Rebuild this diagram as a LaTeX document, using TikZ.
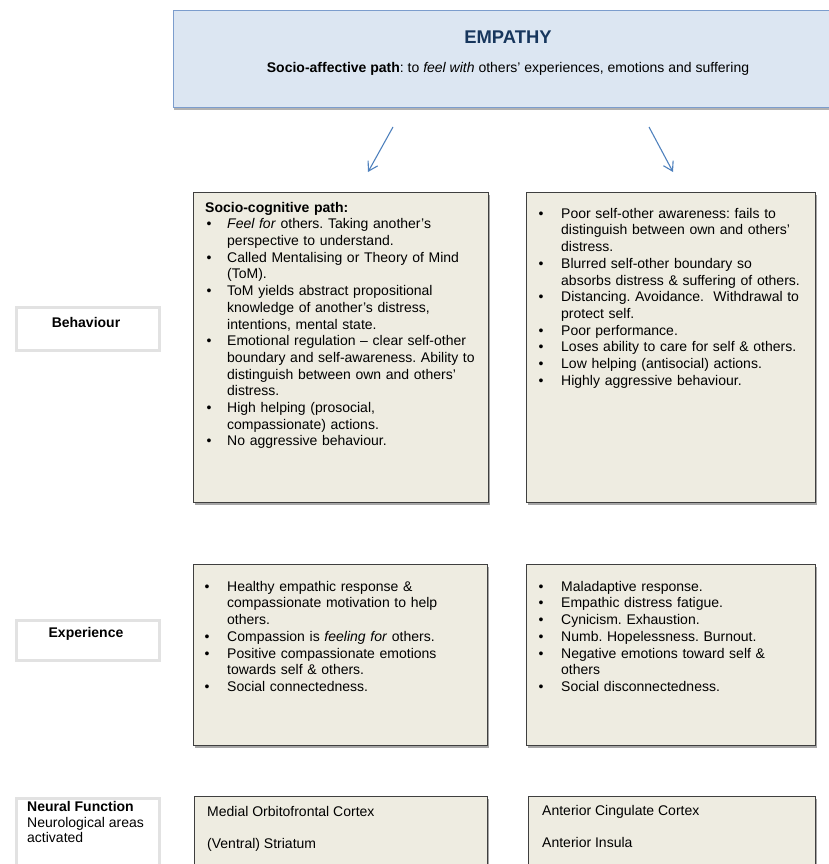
\documentclass[tikz,border=0pt]{standalone}
\usepackage{fontspec}
\setmainfont{Liberation Sans}
\usetikzlibrary{shadows,arrows.meta}
\frenchspacing
\definecolor{boxfill}{HTML}{EEECE1}
\definecolor{boxline}{HTML}{3F3F3F}
\definecolor{topfill}{HTML}{DCE6F2}
\definecolor{topline}{HTML}{7C9DCD}
\definecolor{arrowc}{HTML}{4F81BD}
\definecolor{navy}{HTML}{17365D}
\definecolor{labline}{HTML}{E2E2E2}
\newlength{\bo}\newlength{\bi}
\newcommand{\bitem}[1]{\par\noindent\hangindent=\bi\hangafter=1\relax\makebox[\bi][l]{\hspace*{\bo}•}\strut#1}
\tikzset{
  x=1pt, y=-1pt,
  greybox/.style={draw=boxline, line width=1pt, fill=boxfill, anchor=north west, inner sep=0pt,
    drop shadow={shadow xshift=1.2pt, shadow yshift=-2pt, fill=black, opacity=0.35}},
  topbox/.style={draw=topline, line width=1.2pt, fill=topfill, anchor=north west, inner sep=0pt,
    drop shadow={shadow xshift=0pt, shadow yshift=-2.5pt, fill=black, opacity=0.3}},
  labbox/.style={draw=labline, line width=3pt, fill=white, anchor=north west, inner sep=0pt},
  txt/.style={anchor=north west, inner sep=0pt, text width=300pt, align=left,
    font=\fontsize{14}{16.7}\selectfont},
  line/.style={anchor=base west, inner sep=0pt, font=\fontsize{14}{16.7}\selectfont},
  lab/.style={anchor=base, inner sep=0pt, font=\fontsize{14}{16.7}\selectfont\bfseries},
  arr/.style={draw=arrowc, line width=1.1pt, -{Straight Barb[length=9pt,width=11pt,line width=1.1pt]}}
}
\begin{document}
\begin{tikzpicture}
\useasboundingbox (0,0) rectangle (829,864);
\clip (0,0) rectangle (829,864);
% top box
\node[topbox, minimum width=665pt, minimum height=97pt] (top) at (173,10) {};
\node[anchor=base, inner sep=0pt, font=\fontsize{18.4}{22}\selectfont\bfseries, text=navy] (title) at (508,44) {EMPATHY};
\node[anchor=base, inner sep=0pt, font=\fontsize{14}{16.7}\selectfont] (sub) at (508,73)
  {\textbf{Socio-affective path}: to \textit{feel with} others’ experiences, emotions and suffering};
% arrows
\coordinate (a1s) at (393,127); \coordinate (a1e) at (368,172);
\coordinate (a2s) at (649,127); \coordinate (a2e) at (673,172);
\draw[arr] (a1s) -- (a1e);
\draw[arr] (a2s) -- (a2e);
% grey boxes
\node[greybox, minimum width=295pt, minimum height=310pt] (bl) at (193,192) {};
\node[greybox, minimum width=289pt, minimum height=310pt] (br) at (526,192) {};
\node[greybox, minimum width=294pt, minimum height=181pt] (el) at (193,564) {};
\node[greybox, minimum width=289pt, minimum height=181pt] (er) at (526,564) {};
\node[greybox, minimum width=293pt, minimum height=100pt] (nl) at (194,796) {};
\node[greybox, minimum width=287pt, minimum height=100pt] (nr) at (528,796) {};
% label boxes
\node[labbox, minimum width=143pt, minimum height=43pt] (lb1) at (14.5,305.5) {};
\node[labbox, minimum width=143pt, minimum height=40pt] (lb2) at (14.5,618.5) {};
\node[labbox, minimum width=143pt, minimum height=100pt] (lb3) at (14.5,796.5) {};
\node[lab] (labB) at (86,327) {Behaviour};
\node[lab] (labE) at (86,637) {Experience};
\node[line, font=\fontsize{14}{16.7}\selectfont\bfseries] (labN1) at (27,811.5) {Neural Function};
\node[line] (labN2) at (27,827) {Neurological areas};
\node[line] (labN3) at (27,842.5) {activated};
% behaviour left text
\node[txt] (tbl) at (205,200.3) {\setlength{\bo}{1.5pt}\setlength{\bi}{22pt}%
\noindent\strut\textbf{Socio-cognitive path:}
\bitem{\textit{Feel for} others. Taking another’s\newline perspective to understand.}
\bitem{Called Mentalising or Theory of Mind\newline (ToM).}
\bitem{ToM yields abstract propositional\newline knowledge of another’s distress,\newline intentions, mental state.}
\bitem{Emotional regulation – clear self-other\newline boundary and self-awareness. Ability to\newline distinguish between own and others’\newline distress.}
\bitem{High helping (prosocial,\newline compassionate) actions.}
\bitem{No aggressive behaviour.}};
% behaviour right text
\node[txt] (tbr) at (538.5,201.3) {\setlength{\bo}{0pt}\setlength{\bi}{22.5pt}%
\bitem{Poor self-other awareness: fails to\newline distinguish between own and others’\newline distress.}
\bitem{Blurred self-other boundary so\newline absorbs distress \& suffering of others.}
\bitem{Distancing. Avoidance.\ \ Withdrawal to\newline protect self.}
\bitem{Poor performance.}
\bitem{Loses ability to care for self \& others.}
\bitem{Low helping (antisocial) actions.}
\bitem{Highly aggressive behaviour.}};
% experience left text
\node[txt] (tel) at (204.5,574.3) {\setlength{\bo}{0pt}\setlength{\bi}{22.5pt}%
\bitem{Healthy empathic response \&\newline compassionate motivation to help\newline others.}
\bitem{Compassion is \textit{feeling for} others.}
\bitem{Positive compassionate emotions\newline towards self \& others.}
\bitem{Social connectedness.}};
% experience right text
\node[txt] (ter) at (538.5,574.3) {\setlength{\bo}{0pt}\setlength{\bi}{22.5pt}%
\bitem{Maladaptive response.}
\bitem{Empathic distress fatigue.}
\bitem{Cynicism. Exhaustion.}
\bitem{Numb. Hopelessness. Burnout.}
\bitem{Negative emotions toward self \&\newline others}
\bitem{Social disconnectedness.}};
% neural text
\node[line] (nl1) at (207,816) {Medial Orbitofrontal Cortex};
\node[line] (nl2) at (207,848) {(Ventral) Striatum};
\node[line] (nr1) at (542,815.5) {Anterior Cingulate Cortex};
\node[line] (nr2) at (542,847.5) {Anterior Insula};
\end{tikzpicture}
\end{document}
